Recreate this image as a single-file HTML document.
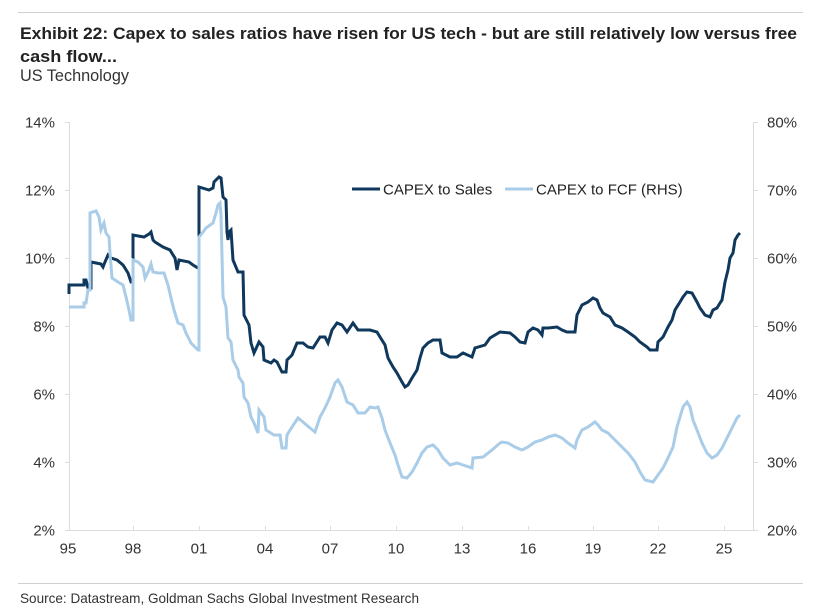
<!DOCTYPE html>
<html>
<head>
<meta charset="utf-8">
<style>
  html, body { margin: 0; padding: 0; background: #ffffff; }
  svg { display: block; }
  text { font-family: "Liberation Sans", Arial, sans-serif; }
</style>
</head>
<body>
<svg width="834" height="609" viewBox="0 0 834 609" xmlns="http://www.w3.org/2000/svg">
  <rect x="0" y="0" width="834" height="609" fill="#ffffff"/>

  <!-- top rule -->
  <line x1="18" y1="12.5" x2="803" y2="12.5" stroke="#cfcfcf" stroke-width="1"/>

  <!-- title -->
  <text x="20" y="39" font-size="17" font-weight="bold" fill="#222222" textLength="777" lengthAdjust="spacingAndGlyphs">Exhibit 22: Capex to sales ratios have risen for US tech - but are still relatively low versus free</text>
  <text x="20" y="62" font-size="17" font-weight="bold" fill="#222222" textLength="97" lengthAdjust="spacingAndGlyphs">cash flow...</text>
  <text x="20" y="81" font-size="17" fill="#333333" textLength="109" lengthAdjust="spacingAndGlyphs">US Technology</text>

  <!-- axes -->
  <line x1="69.5" y1="122" x2="69.5" y2="531" stroke="#dcdcdc" stroke-width="1"/>
  <line x1="753.5" y1="122" x2="753.5" y2="531" stroke="#dcdcdc" stroke-width="1"/>
  <line x1="69" y1="530.5" x2="754" y2="530.5" stroke="#dcdcdc" stroke-width="1"/>

  <!-- left ticks -->
  <g stroke="#dcdcdc" stroke-width="1">
    <line x1="65" y1="122.5" x2="69" y2="122.5"/>
    <line x1="65" y1="190.5" x2="69" y2="190.5"/>
    <line x1="65" y1="258.5" x2="69" y2="258.5"/>
    <line x1="65" y1="326.5" x2="69" y2="326.5"/>
    <line x1="65" y1="394.5" x2="69" y2="394.5"/>
    <line x1="65" y1="462.5" x2="69" y2="462.5"/>
    <line x1="65" y1="530.5" x2="69" y2="530.5"/>
    <line x1="754" y1="122.5" x2="758" y2="122.5"/>
    <line x1="754" y1="190.5" x2="758" y2="190.5"/>
    <line x1="754" y1="258.5" x2="758" y2="258.5"/>
    <line x1="754" y1="326.5" x2="758" y2="326.5"/>
    <line x1="754" y1="394.5" x2="758" y2="394.5"/>
    <line x1="754" y1="462.5" x2="758" y2="462.5"/>
    <line x1="754" y1="530.5" x2="758" y2="530.5"/>
    <line x1="133.5" y1="526" x2="133.5" y2="530"/>
    <line x1="199.5" y1="526" x2="199.5" y2="530"/>
    <line x1="265.5" y1="526" x2="265.5" y2="530"/>
    <line x1="330.5" y1="526" x2="330.5" y2="530"/>
    <line x1="396.5" y1="526" x2="396.5" y2="530"/>
    <line x1="462.5" y1="526" x2="462.5" y2="530"/>
    <line x1="528.5" y1="526" x2="528.5" y2="530"/>
    <line x1="593.5" y1="526" x2="593.5" y2="530"/>
    <line x1="658.5" y1="526" x2="658.5" y2="530"/>
    <line x1="724.5" y1="526" x2="724.5" y2="530"/>
  </g>

  <!-- left labels -->
  <g font-size="15" fill="#333333" text-anchor="end">
    <text x="55" y="127.5">14%</text>
    <text x="55" y="195.5">12%</text>
    <text x="55" y="263.5">10%</text>
    <text x="55" y="331.5">8%</text>
    <text x="55" y="399.5">6%</text>
    <text x="55" y="467.5">4%</text>
    <text x="55" y="535.5">2%</text>
  </g>
  <!-- right labels -->
  <g font-size="15" fill="#333333" text-anchor="start">
    <text x="767" y="127.5">80%</text>
    <text x="767" y="195.5">70%</text>
    <text x="767" y="263.5">60%</text>
    <text x="767" y="331.5">50%</text>
    <text x="767" y="399.5">40%</text>
    <text x="767" y="467.5">30%</text>
    <text x="767" y="535.5">20%</text>
  </g>
  <!-- x labels -->
  <g font-size="15" fill="#333333" text-anchor="middle">
    <text x="68" y="553.5">95</text>
    <text x="133" y="553.5">98</text>
    <text x="199" y="553.5">01</text>
    <text x="265" y="553.5">04</text>
    <text x="330" y="553.5">07</text>
    <text x="396" y="553.5">10</text>
    <text x="462" y="553.5">13</text>
    <text x="528" y="553.5">16</text>
    <text x="593" y="553.5">19</text>
    <text x="658" y="553.5">22</text>
    <text x="724" y="553.5">25</text>
  </g>

  <!-- CAPEX to Sales (dark) -->
  <polyline fill="none" stroke="#0f385c" stroke-width="3" stroke-linejoin="miter" points="
69,294 69,285 84,285 84,280 86,280 88,288 91,288 91,262 101,264 103,267 105,262 108,255 111,258 117,260 123,265 128,273 131,282 133,282 133,235 144,237 149,234 151,232 153,240 155,242 163,247 170,250 173,255 175,258 177,270 179,260 189,262 193,265 198,268 199,268 199,187 209,190 213,188 214,182 219,177 221,178 223,197 226,200 227,232 228,240 229,232 231,230 233,260 238,272 243,272 244,315 249,325 251,343 254,353 259,342 263,347 264,360 271,363 274,360 277,362 282,372 286,372 287,360 292,355 297,343 303,343 308,347 313,348 320,337 325,337 328,343 332,330 337,323 342,325 347,332 353,323 358,330 370,330 377,332 380,337 385,345 388,358 393,367 397,373 402,382 405,387 408,385 412,378 417,370 420,358 423,348 428,343 433,340 440,340 442,353 450,357 457,357 463,353 472,357 475,348 485,345 490,338 495,335 500,332 510,333 515,337 520,342 525,343 528,332 533,328 538,330 542,335 543,328 548,328 557,327 562,330 567,332 575,332 577,315 582,305 588,302 593,298 597,300 600,308 603,313 610,317 615,325 622,328 628,332 635,337 640,342 647,347 650,350 657,350 658,342 663,337 668,327 672,320 675,310 680,302 683,297 687,292 692,293 697,302 700,308 705,315 710,317 713,310 717,308 720,303 722,300 725,282 728,270 730,258 733,253 735,240 738,235 740,233"/>

  <!-- CAPEX to FCF (light) -->
  <polyline fill="none" stroke="#a9cce8" stroke-width="3" stroke-linejoin="miter" points="
69,307 84,307 84,303 86,303 88,290 90,290 90,213 96,211 99,217 101,230 104,223 106,233 109,237 110,253 112,278 118,282 123,285 126,297 129,310 131,320 133,320 133,260 138,262 143,267 145,278 149,270 151,264 153,272 158,273 164,273 168,285 171,298 174,310 178,323 183,325 186,333 191,343 198,350 199,350 199,237 203,232 206,228 213,223 216,213 218,205 220,203 221,215 223,297 226,307 228,338 231,342 233,360 238,370 239,377 243,383 244,397 248,403 251,417 254,423 258,433 259,410 264,417 266,430 274,435 280,435 282,448 286,448 287,435 292,427 298,418 303,422 310,428 315,432 320,417 325,408 330,397 335,383 338,380 342,387 347,402 353,405 358,413 365,413 370,407 375,408 378,407 382,418 385,430 390,443 395,455 398,465 402,477 407,478 412,472 417,463 422,453 427,447 433,445 438,450 443,458 450,465 457,463 463,465 472,468 473,458 483,457 492,450 500,443 502,442 508,443 515,447 522,450 528,447 535,442 542,440 548,437 555,435 562,438 568,443 575,448 577,440 582,430 588,427 595,422 598,425 602,430 608,433 615,440 622,447 628,453 635,462 640,472 645,480 653,482 658,475 663,468 668,458 673,447 677,427 680,417 683,407 687,402 690,407 693,420 697,430 702,443 707,453 712,458 717,455 722,448 727,438 732,428 737,418 740,415"/>

  <!-- legend -->
  <line x1="352" y1="189" x2="380" y2="189" stroke="#0f385c" stroke-width="3"/>
  <text x="383" y="194.5" font-size="15" fill="#222222">CAPEX to Sales</text>
  <line x1="505" y1="189" x2="533" y2="189" stroke="#a9cce8" stroke-width="3"/>
  <text x="536" y="194.5" font-size="15" fill="#222222">CAPEX to FCF (RHS)</text>

  <!-- bottom rule -->
  <line x1="18" y1="583.5" x2="803" y2="583.5" stroke="#cfcfcf" stroke-width="1"/>

  <!-- source -->
  <text x="20" y="603" font-size="14" fill="#333333" textLength="399" lengthAdjust="spacingAndGlyphs">Source: Datastream, Goldman Sachs Global Investment Research</text>
</svg>
</body>
</html>
